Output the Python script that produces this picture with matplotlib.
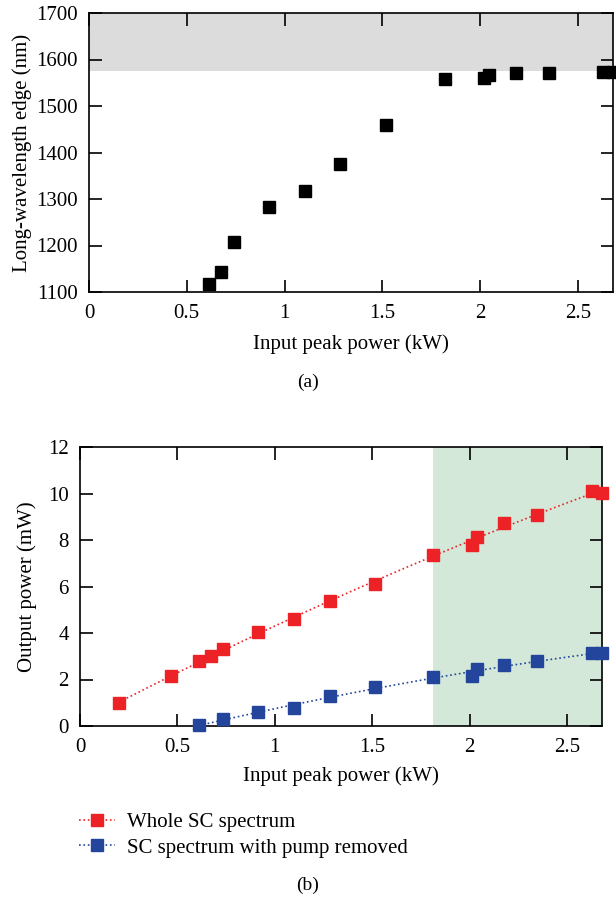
import numpy as np
import matplotlib
matplotlib.use("Agg")
import matplotlib.pyplot as plt

plt.rcParams["font.family"] = ["Liberation Serif", "DejaVu Serif"]
plt.rcParams["font.size"] = 14

# panel (a): long-wavelength edge vs input peak power
power_a = [0.612, 0.674, 0.740, 0.919, 1.105, 1.284, 1.521, 1.823, 2.019, 2.044, 2.182, 2.353, 2.630, 2.680]
edge_nm = [1118, 1144, 1208, 1283, 1317, 1375, 1459, 1559, 1561, 1566, 1570, 1570, 1573, 1573]

# panel (b): output power vs input peak power
power_whole = [0.199, 0.467, 0.611, 0.673, 0.735, 0.914, 1.100, 1.281, 1.516, 1.814, 2.015, 2.036, 2.175, 2.345, 2.628, 2.681]
out_whole = [0.98, 2.14, 2.79, 2.99, 3.31, 4.03, 4.62, 5.38, 6.12, 7.35, 7.80, 8.14, 8.75, 9.09, 10.12, 10.01]
power_pump = [0.611, 0.735, 0.914, 1.100, 1.281, 1.516, 1.814, 2.015, 2.036, 2.175, 2.345, 2.628, 2.681]
out_pump = [0.03, 0.29, 0.59, 0.78, 1.29, 1.67, 2.10, 2.13, 2.45, 2.62, 2.81, 3.12, 3.14]

gray_band = (1575, 1700)
green_band = (1.814, 2.68)
red = "#ec2226"
blue = "#23469c"

fig = plt.figure(figsize=(6.16, 8.98), dpi=100)

def style_axes(ax):
    ax.tick_params(direction="in", length=9, width=1.2, top=True, right=True,
                   labelsize=15, pad=8)
    ax.tick_params(axis="x", pad=9)
    for s in ax.spines.values():
        s.set_linewidth(1.2)

# ---- (a)
ax1 = fig.add_axes([89 / 616, 1 - 292 / 898, 524 / 616, 279 / 898])
ax1.axhspan(gray_band[0], gray_band[1], color="#dcdcdc", lw=0, zorder=0)
ax1.plot(power_a, edge_nm, "s", color="black", ms=8, clip_on=False, zorder=3)
ax1.set_xlim(0, 2.68)
ax1.set_ylim(1100, 1700)
ax1.set_xticks([0, 0.5, 1, 1.5, 2, 2.5])
ax1.set_xticklabels(["0", "0.5", "1", "1.5", "2", "2.5"])
ax1.set_xlabel("Input peak power (kW)", fontsize=15, labelpad=8)
ax1.set_ylabel("Long-wavelength edge (nm)", fontsize=15, labelpad=3)
style_axes(ax1)
fig.text(0.5, 1 - 382 / 898, "(a)", ha="center", va="center", fontsize=14)

# ---- (b)
ax2 = fig.add_axes([80 / 616, 1 - 726 / 898, 522 / 616, 279 / 898])
ax2.axvspan(green_band[0], green_band[1], color="#d3e8d8", lw=0, zorder=0)
# trend lines fitted to the measured points
fit_w = np.polyfit(power_whole, out_whole, 2)
xw = np.linspace(power_whole[0], power_whole[-2], 100)
ax2.plot(xw, np.polyval(fit_w, xw), ":", color=red, lw=1.2, zorder=2)
fit_p = np.polyfit(power_pump, out_pump, 2)
xp = np.linspace(power_pump[0], power_pump[-1], 100)
ax2.plot(xp, np.polyval(fit_p, xp), ":", color=blue, lw=1.2, zorder=2)
ax2.plot(power_whole, out_whole, "s", color=red, ms=8.5, clip_on=False, zorder=3)
ax2.plot(power_pump, out_pump, "s", color=blue, ms=8.5, clip_on=False, zorder=3)
ax2.set_xlim(0, 2.68)
ax2.set_ylim(0, 12)
ax2.set_xticks([0, 0.5, 1, 1.5, 2, 2.5])
ax2.set_xticklabels(["0", "0.5", "1", "1.5", "2", "2.5"])
ax2.set_yticks(range(0, 13, 2))
ax2.set_xlabel("Input peak power (kW)", fontsize=15, labelpad=6)
ax2.set_ylabel("Output power (mW)", fontsize=15, labelpad=8)
style_axes(ax2)

h1, = plt.plot([], [], ":", color=red, marker="s", ms=8, lw=1.2)
h2, = plt.plot([], [], ":", color=blue, marker="s", ms=8, lw=1.2)
fig.legend([h1, h2], ["Whole SC spectrum", "SC spectrum with pump removed"],
           loc="upper left", bbox_to_anchor=(0.115, 1 - 804 / 898), frameon=False,
           fontsize=15, handlelength=1.7, handletextpad=0.6, labelspacing=0.3,
           borderaxespad=0)
fig.text(0.5, 1 - 885 / 898, "(b)", ha="center", va="center", fontsize=14)

fig.savefig("out.png", dpi=100)
